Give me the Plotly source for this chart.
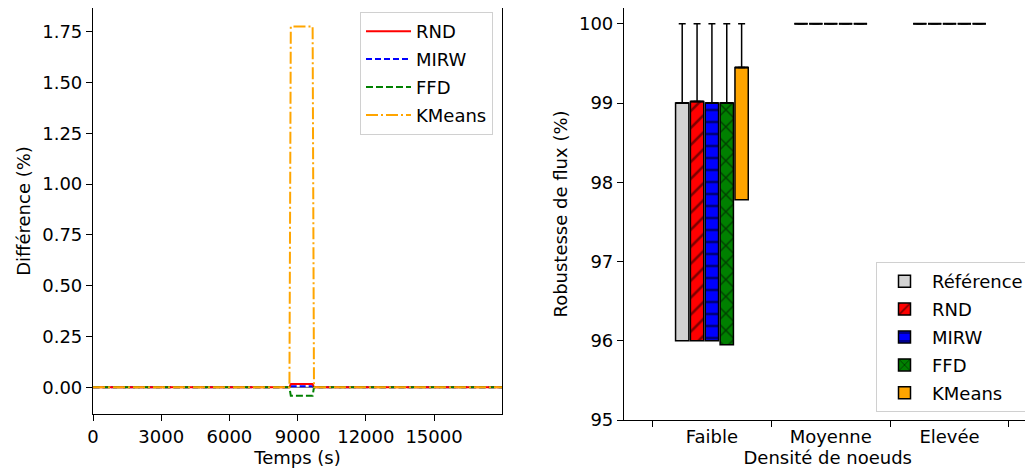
import numpy as np
import plotly.graph_objects as go

# ---------------- Left panel data (difference over time) ----------------
time_s = [0, 8640, 8700, 9660, 9720, 18000]
diff_rnd = [0.0, 0.0, 0.017, 0.017, 0.0, 0.0]
diff_mirw = [0.0, 0.0, 0.005, 0.005, 0.0, 0.0]
diff_ffd = [0.0, 0.0, -0.041, -0.041, 0.0, 0.0]
diff_kmeans = [0.0, 0.0, 1.775, 1.775, 0.0, 0.0]

# ---------------- Right panel data (box statistics) ----------------
densities = ["Faible", "Moyenne", "Elevée"]
methods = ["Référence", "RND", "MIRW", "FFD", "KMeans"]
q1 = {
    "Référence": [96.0, 100.0, 100.0],
    "RND": [96.0, 100.0, 100.0],
    "MIRW": [96.0, 100.0, 100.0],
    "FFD": [95.95, 100.0, 100.0],
    "KMeans": [97.78, 100.0, 100.0],
}
q3 = {
    "Référence": [99.0, 100.0, 100.0],
    "RND": [99.02, 100.0, 100.0],
    "MIRW": [99.0, 100.0, 100.0],
    "FFD": [99.0, 100.0, 100.0],
    "KMeans": [99.45, 100.0, 100.0],
}
medians = {
    "Référence": [99.0, 100.0, 100.0],
    "RND": [99.02, 100.0, 100.0],
    "MIRW": [99.0, 100.0, 100.0],
    "FFD": [99.0, 100.0, 100.0],
    "KMeans": [99.45, 100.0, 100.0],
}
upper_whisker = {
    "Référence": [100.0, 100.0, 100.0],
    "RND": [100.0, 100.0, 100.0],
    "MIRW": [100.0, 100.0, 100.0],
    "FFD": [100.0, 100.0, 100.0],
    "KMeans": [100.0, 100.0, 100.0],
}
box_colors = {"Référence": "lightgray", "RND": "red", "MIRW": "blue", "FFD": "green", "KMeans": "orange"}
box_hatch = {"Référence": "", "RND": "/", "MIRW": "-", "FFD": "x", "KMeans": ""}

FONT = "DejaVu Sans"
FS = 18
OFF = 8  # page body margin
W, H = 1033 - OFF, 474 - OFF


def fx(px):
    return min(1.0, max(0.0, (px - OFF) / W))


def fy(py):
    return min(1.0, max(0.0, (H - (py - OFF)) / H))


fig = go.Figure()

# ---------------- Left panel ----------------
lw = 2
fig.add_trace(go.Scatter(x=time_s, y=diff_mirw, mode="lines", name="MIRW", legendrank=2, legendgroup="MIRW",
                         line=dict(color="blue", width=lw, dash="6px,3px"), xaxis="x", yaxis="y", legend="legend"))
fig.add_trace(go.Scatter(x=time_s, y=diff_rnd, mode="lines", name="RND", legendrank=1, legendgroup="RND",
                         line=dict(color="red", width=lw), xaxis="x", yaxis="y", legend="legend"))
fig.add_trace(go.Scatter(x=time_s, y=diff_ffd, mode="lines", name="FFD", legendrank=3, legendgroup="FFD",
                         line=dict(color="green", width=lw, dash="7px,3px"), xaxis="x", yaxis="y", legend="legend"))
fig.add_trace(go.Scatter(x=time_s, y=diff_kmeans, mode="lines", name="KMeans", legendrank=4, legendgroup="KMeans",
                         line=dict(color="orange", width=lw, dash="12px,3px,2px,3px"), xaxis="x", yaxis="y", legend="legend"))

# ---------------- Right panel ----------------
cat_pos = np.arange(1, len(densities) + 1, dtype=float)
n = len(methods)
step = 0.125
bw = 0.112
for i, m in enumerate(methods):
    pos = cat_pos + (i - (n - 1) / 2) * step
    lo = np.array(q1[m])
    hi = np.array(q3[m])
    up = np.array(upper_whisker[m])
    fig.add_trace(go.Bar(
        x=pos, y=hi - lo, base=lo, width=bw, name=m, legendgroup="box_" + m,
        marker=dict(color=box_colors[m], line=dict(color="black", width=1.5),
                    pattern=dict(shape=box_hatch[m], fgcolor="black", bgcolor=box_colors[m],
                                 size=12, solidity=0.22)),
        error_y=dict(type="data", symmetric=False, array=up - hi, arrayminus=np.zeros_like(up),
                     color="black", thickness=1.5, width=3.5),
        xaxis="x2", yaxis="y2", legend="legend2",
    ))
    mx, my = [], []
    for p, md in zip(pos, medians[m]):
        mx += [p - bw / 2, p + bw / 2, None]
        my += [md, md, None]
    fig.add_trace(go.Scatter(x=mx, y=my, mode="lines", line=dict(color="black", width=2),
                             showlegend=False, hoverinfo="skip", xaxis="x2", yaxis="y2"))

fig.add_shape(type="line", xref="x domain", yref="y", x0=0, x1=1, y0=0, y1=0,
              line=dict(color="gray", width=1.2), layer="below")

ax_common = dict(showline=True, linecolor="black", linewidth=1.2, mirror=True, showgrid=False,
                 zeroline=False, ticks="outside", ticklen=6, tickwidth=1.2, tickcolor="black",
                 tickfont=dict(family=FONT, size=FS, color="black"), automargin=False)

fig.update_layout(
    width=W, height=H,
    margin=dict(l=0, r=0, t=0, b=0),
    plot_bgcolor="white", paper_bgcolor="white",
    font=dict(family=FONT, size=FS, color="black"),
    barmode="overlay",
    xaxis=dict(domain=[fx(93), fx(502)], range=[0, 17990], tick0=0, dtick=3000, tickformat="d", anchor="y",
               title=dict(text="Temps (s)", font=dict(size=FS), standoff=2), **ax_common),
    yaxis=dict(domain=[fy(414), fy(8)], range=[-0.131, 1.866], tick0=0, dtick=0.25,
               tickformat=".2f", anchor="x",
               title=dict(text="Différence (%)", font=dict(size=FS), standoff=6), **ax_common),
    xaxis2=dict(domain=[fx(624), fx(1031.5)], range=[0.26, 3.69], anchor="y2",
                tickvals=list(cat_pos), ticktext=densities,
                title=dict(text="Densité de noeuds", font=dict(size=FS), standoff=2),
                **{**ax_common, "ticks": ""},
                minor=dict(tickvals=list(np.arange(0.5, len(densities) + 1, 1.0)), ticks="outside",
                           ticklen=6, tickwidth=1.2, tickcolor="black")),
    yaxis2=dict(domain=[fy(420), fy(8)], range=[95, 100.2], tick0=95, dtick=1, anchor="x2",
                title=dict(text="Robustesse de flux (%)", font=dict(size=FS), standoff=6), **ax_common),
    legend=dict(x=fx(493), xanchor="right", y=fy(12), yanchor="top", itemwidth=45,
                traceorder="grouped", tracegroupgap=1.5,
                bgcolor="rgba(255,255,255,0.8)", bordercolor="#d0d0d0", borderwidth=1,
                font=dict(family=FONT, size=FS)),
    legend2=dict(x=fx(1029), xanchor="right", y=fy(262), yanchor="top", itemwidth=45,
                 traceorder="grouped", tracegroupgap=1.5,
                 bgcolor="rgba(255,255,255,0.8)", bordercolor="#d0d0d0", borderwidth=1,
                 font=dict(family=FONT, size=FS)),
)

fig.write_html("out.html")
